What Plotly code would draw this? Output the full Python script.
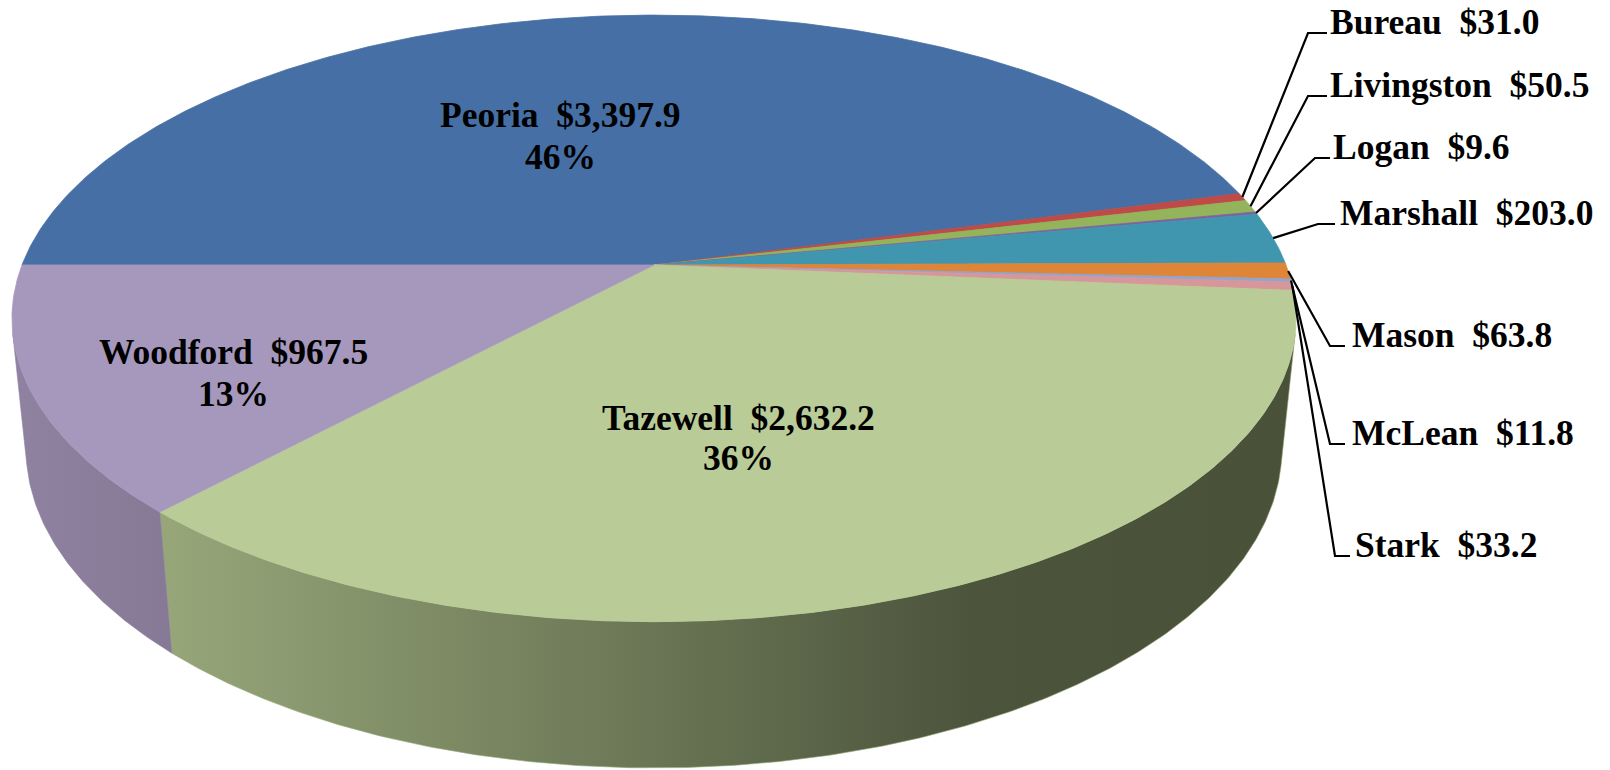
import math
import plotly.graph_objects as go

# ---------------- data ----------------
counties = ["Peoria", "Bureau", "Livingston", "Logan", "Marshall",
            "Mason", "McLean", "Stark", "Tazewell", "Woodford"]
values = [3397.9, 31.0, 50.5, 9.6, 203.0, 63.8, 11.8, 33.2, 2632.2, 967.5]
top_colors = ["#4670A5", "#BE4B48", "#93B45A", "#7D62A0", "#4196AF",
              "#DE8538", "#8EA5D2", "#D7969A", "#B9CB96", "#A698BC"]
# labels placed inside the pie (with percentage): (center x, line1 y, line2 y)
inside_labels = {"Peoria": (560, 115, 156.5),
                 "Tazewell": (738, 418, 458),
                 "Woodford": (233, 351.5, 393.5)}
# outside label: (text-left x, text-middle y, elbow x, horizontal end x)
outside_labels = {"Bureau": (1330, 22, 1308, 1327),
                  "Livingston": (1330, 85, 1308, 1327),
                  "Logan": (1333, 147, 1315, 1330),
                  "Marshall": (1340, 213, 1318, 1335),
                  "Mason": (1352, 335, 1330, 1345),
                  "McLean": (1352, 433, 1330, 1345),
                  "Stark": (1355, 545, 1335, 1350)}

# ---------------- 3D pie projection ----------------
W, H = 1610, 770
CX, CY, S = 654.0, 265.0, 632.0
SIN_T, COS_T = 0.465, 0.885       # camera elevation
DIST = COS_T / 0.176              # camera distance (radius units)
DEPTH = 0.235                     # pie thickness (radius units)
START = 180.0                     # first slice starts at 9 o'clock, clockwise


def proj(theta_deg, z=0.0):
    t = math.radians(theta_deg)
    X, Y, Z = math.cos(t), math.sin(t), z
    w = 1 + (Y * COS_T - Z * SIN_T) / DIST
    u = S * X / w
    v = S * (Y * SIN_T + Z * COS_T) / w
    return CX + u, CY - v


def arc(a, b, z=0.0, n=None):
    if n is None:
        n = max(3, int(abs(b - a) * 2) + 2)
    pts = [proj(a + (b - a) * i / (n - 1), z) for i in range(n)]
    return [p[0] for p in pts], [p[1] for p in pts]


total = sum(values)
angles = []
cur = START
for v in values:
    span = 360.0 * v / total
    angles.append((cur, cur - span))
    cur -= span

fig = go.Figure()

# visible side-wall angular range
sil = math.degrees(math.asin(-1.0 / (DIST * COS_T)))   # about -13 deg
vis_lo, vis_hi = -180.0 - sil, sil                     # (-167, -13)

wall_grad = {
    "Tazewell": dict(type="horizontal", start=170, stop=1300,
                     colorscale=[[0, "rgb(150,166,121)"], [0.38, "rgb(111,123,89)"],
                                 [0.71, "rgb(76,84,60)"], [1, "rgb(73,81,57)"]]),
    "Woodford": dict(type="horizontal", start=20, stop=175,
                     colorscale=[[0, "rgb(143,129,160)"], [1, "rgb(134,121,149)"]]),
}

for name, (a0, a1), col in zip(counties, angles, top_colors):
    hi = min(a0, vis_hi)
    lo = max(a1, vis_lo)
    if hi > lo:
        tx, ty = arc(hi, lo, 0.0)
        bx, by = arc(lo, hi, -DEPTH)
        xs = tx + bx + [tx[0]]
        ys = ty + by + [ty[0]]
        kw = {}
        if name in wall_grad:
            kw["fillgradient"] = wall_grad[name]
            lc = wall_grad[name]["colorscale"][0][1]
        else:
            kw["fillcolor"] = col
            lc = col
        fig.add_trace(go.Scatter(x=xs, y=ys, mode="lines", fill="toself",
                                 line=dict(width=0.6, color=lc),
                                 hoverinfo="skip", showlegend=False, **kw))

# top faces
for name, (a0, a1), col in zip(counties, angles, top_colors):
    ax, ay = arc(a0, a1, 0.0)
    xs = [CX] + ax + [CX]
    ys = [CY] + ay + [CY]
    fig.add_trace(go.Scatter(x=xs, y=ys, mode="lines", fill="toself",
                             fillcolor=col, line=dict(width=0.8, color=col),
                             hoverinfo="text", text=name, showlegend=False))

FONT = dict(family="Liberation Serif, Times New Roman, serif", size=35.5, color="black")
annotations = []
for name, (a0, a1), v in zip(counties, angles, values):
    pct = v / total * 100
    txt = f"<b>{name}\u00a0 ${v:,.1f}</b>"
    if name in inside_labels:
        x, y1, y2 = inside_labels[name]
        annotations.append(dict(x=x, y=y1, text=txt, showarrow=False,
                                xanchor="center", yanchor="middle", font=FONT))
        annotations.append(dict(x=x, y=y2, text=f"<b>{pct:.0f}%</b>", showarrow=False,
                                xanchor="center", yanchor="middle", font=FONT))
    else:
        tx, ty, ex, hx = outside_labels[name]
        annotations.append(dict(x=tx - 2, y=ty, text=txt, showarrow=False,
                                xanchor="left", yanchor="middle", font=FONT))
        rx, ry = proj((a0 + a1) / 2.0, 0.0)
        ly = ty + 11
        fig.add_trace(go.Scatter(x=[rx, ex, hx], y=[ry, ly, ly], mode="lines",
                                 line=dict(color="black", width=2.2),
                                 hoverinfo="skip", showlegend=False))

fig.update_layout(
    width=W, height=H,
    margin=dict(l=0, r=0, t=0, b=0),
    paper_bgcolor="white", plot_bgcolor="white",
    xaxis=dict(range=[0, W], visible=False, fixedrange=True),
    yaxis=dict(range=[H, 0], visible=False, fixedrange=True),
    annotations=annotations,
    showlegend=False,
)

fig.write_html("out.html",
               config={"displayModeBar": False},
               post_script="document.body.style.margin='0';"
                           "document.documentElement.style.overflow='hidden';")
